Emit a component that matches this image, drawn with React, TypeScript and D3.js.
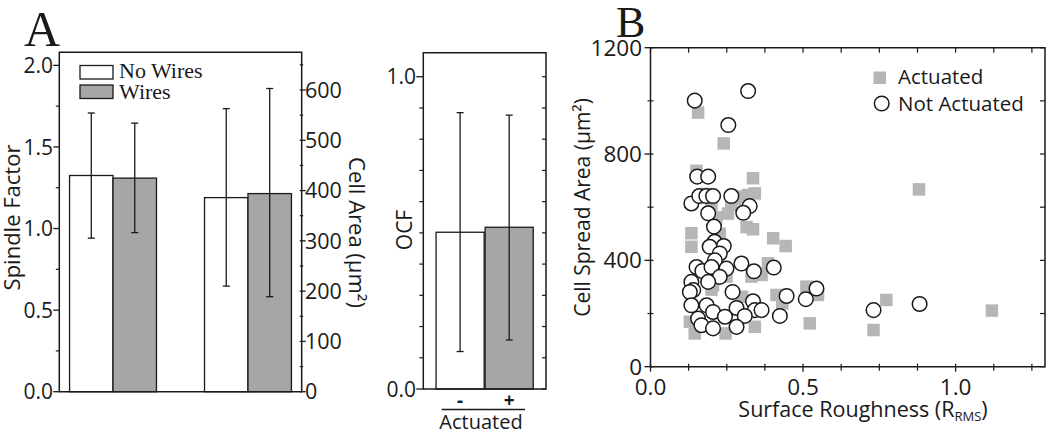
import React from "react";
import * as d3 from "d3";

// ---------- Panel A (left): Spindle Factor / Cell Area ----------
const groupsA = ["Spindle Factor", "Cell Area"];
const seriesA = ["No Wires", "Wires"];
const spindleMeans = [1.325, 1.309];
const spindleLo = [0.941, 0.975];
const spindleHi = [1.708, 1.646];
const areaMeans = [386, 394];
const areaLo = [210, 189];
const areaHi = [563, 603];
const spindleTicks = [0, 0.5, 1.0, 1.5, 2.0];
const spindleMinor = [0.25, 0.75, 1.25, 1.75];
const areaTicks = [0, 100, 200, 300, 400, 500, 600];
const areaMinor = [50, 150, 250, 350, 450, 550, 650];

// ---------- Panel A (right): OCF ----------
const ocfCats = ["-", "+"];
const ocfMeans = [0.502, 0.518];
const ocfLo = [0.12, 0.157];
const ocfHi = [0.885, 0.877];
const ocfTicks = [0, 1.0];
const ocfMinor = [0.1, 0.2, 0.3, 0.4, 0.5, 0.6, 0.7, 0.8, 0.9];

// ---------- Panel B: scatter ----------
const actX = [0.156, 0.24, 0.336, 0.88, 1.119, 0.773, 0.731, 0.522, 0.342, 0.246, 0.145, 0.129, 0.402, 0.443, 0.336, 0.315, 0.342, 0.32, 0.265, 0.254, 0.216, 0.134, 0.134, 0.385, 0.364, 0.331, 0.249, 0.205, 0.413, 0.511, 0.549, 0.432, 0.227, 0.19, 0.3, 0.2, 0.151, 0.18, 0.28, 0.2, 0.29];
const actY = [956, 840, 709, 667, 211, 251, 138, 163, 150, 125, 125, 169, 483, 454, 517, 525, 652, 646, 610, 576, 562, 502, 451, 389, 345, 339, 339, 307, 270, 301, 270, 238, 500, 360, 263, 290, 737, 650, 630, 610, 640];
const notX = [0.145, 0.32, 0.255, 0.153, 0.189, 0.134, 0.16, 0.183, 0.205, 0.265, 0.325, 0.304, 0.189, 0.208, 0.21, 0.24, 0.194, 0.227, 0.211, 0.151, 0.17, 0.2, 0.249, 0.298, 0.339, 0.404, 0.227, 0.189, 0.134, 0.14, 0.129, 0.269, 0.446, 0.509, 0.544, 0.134, 0.184, 0.205, 0.282, 0.336, 0.342, 0.364, 0.309, 0.244, 0.424, 0.156, 0.167, 0.205, 0.282, 0.731, 0.882];
const notY = [1001, 1037, 909, 715, 715, 614, 642, 642, 642, 642, 604, 579, 577, 527, 470, 454, 451, 426, 400, 375, 360, 375, 369, 388, 359, 373, 338, 319, 319, 288, 281, 281, 266, 254, 294, 231, 231, 206, 221, 246, 213, 213, 191, 188, 191, 181, 156, 144, 150, 213, 236];
const bXTicks = [0, 0.5, 1.0];
const bXMinor = [0.125, 0.25, 0.375, 0.625, 0.75, 0.875, 1.125, 1.25];
const bYTicks = [0, 400, 800, 1200];
const bYMinor = [200, 600, 1000];

const SANS = "'Open Sans', 'DejaVu Sans', sans-serif";
const SERIF = "'Liberation Serif', 'DejaVu Serif', serif";
const INK = "#1a1a1a";
const BAR_GRAY = "#a6a6a6";
const SQ_GRAY = "#b6b6b6";

function ErrorBar({ x, y1, y2 }: { x: number; y1: number; y2: number }) {
  const c = 3.5;
  return (
    <g stroke={INK} strokeWidth={1.3}>
      <line x1={x} x2={x} y1={y1} y2={y2} />
      <line x1={x - c} x2={x + c} y1={y1} y2={y1} />
      <line x1={x - c} x2={x + c} y1={y2} y2={y2} />
    </g>
  );
}

export default function App() {
  // ----- Panel A left -----
  const aL = 59.3, aR = 301.7, aT = 52.3, aB = 391.7;
  const spindleY = d3.scaleLinear().domain([0, 2.08]).range([aB, aT]);
  const areaY = d3.scaleLinear().domain([0, 675]).range([aB, aT]);
  const xGroup = d3.scaleBand<string>().domain(groupsA).range([aL, aR]).paddingInner(0.356).paddingOuter(0.076);
  const xSeries = d3.scaleBand<string>().domain(seriesA).range([0, xGroup.bandwidth()]);
  const groupScales = [spindleY, areaY];
  const groupMeans = [spindleMeans, areaMeans];
  const groupLo = [spindleLo, areaLo];
  const groupHi = [spindleHi, areaHi];

  // ----- Panel A right (OCF) -----
  const oL = 423.3, oR = 546, oT = 52.7, oB = 389;
  const ocfY = d3.scaleLinear().domain([0, 1.077]).range([oB, oT]);
  const ocfX = d3.scaleBand<string>().domain(ocfCats).range([oL, oR]).paddingInner(0.02).paddingOuter(0.26);

  // ----- Panel B -----
  const bL = 650.5, bR = 1045, bT = 47.7, bB = 366.7;
  const bx = d3.scaleLinear().domain([0, 1.293]).range([bL, bR]);
  const by = d3.scaleLinear().domain([0, 1200]).range([bB, bT]);

  const sq = 12.5;

  return (
    <svg width={1050} height={432} style={{ position: "absolute", left: 0, top: 0, background: "#fff" }}>
      <rect width={1050} height={432} fill="#fff" />
      {/* Panel letters */}
      <text x={24} y={46} fontFamily={SERIF} fontSize={50} fill={INK}>A</text>
      <text x={616} y={37} fontFamily={SERIF} fontSize={44} fill={INK}>B</text>

      {/* ===== Panel A left ===== */}
      <g>
        {groupsA.map((g, gi) => {
          const sc = groupScales[gi];
          return seriesA.map((s, si) => {
            const x0 = (xGroup(g) as number) + (xSeries(s) as number);
            const w = xSeries.bandwidth();
            const v = groupMeans[gi][si];
            return (
              <g key={g + s}>
                <rect x={x0} y={sc(v)} width={w} height={aB - sc(v)} fill={si === 0 ? "#fff" : BAR_GRAY} stroke={INK} strokeWidth={1.3} />
                <ErrorBar x={x0 + w / 2} y1={sc(groupHi[gi][si])} y2={sc(groupLo[gi][si])} />
              </g>
            );
          });
        })}
        {/* frame */}
        <path d={`M${aL},${aB} V${aT} H${aR} V${aB} Z`} fill="none" stroke={INK} strokeWidth={1.5} />
        {/* left axis ticks */}
        {spindleTicks.map((t) => (
          <g key={"st" + t}>
            <line x1={aL - 6} x2={aL} y1={spindleY(t)} y2={spindleY(t)} stroke={INK} strokeWidth={1.3} />
            <text x={53} y={spindleY(t)} dy="0.36em" textAnchor="end" fontFamily={SANS} fontSize={21} fill={INK}>{t.toFixed(1)}</text>
          </g>
        ))}
        {spindleMinor.map((t) => (
          <line key={"sm" + t} x1={aL - 3.5} x2={aL} y1={spindleY(t)} y2={spindleY(t)} stroke={INK} strokeWidth={1.2} />
        ))}
        {/* right axis ticks */}
        {areaTicks.map((t) => (
          <g key={"at" + t}>
            <line x1={aR - 2} x2={aR + 4} y1={areaY(t)} y2={areaY(t)} stroke={INK} strokeWidth={1.3} />
            <text x={305} y={areaY(t)} dy="0.36em" textAnchor="start" fontFamily={SANS} fontSize={21.5} fill={INK}>{t}</text>
          </g>
        ))}
        {areaMinor.map((t) => (
          <line key={"am" + t} x1={aR - 2} x2={aR + 1.5} y1={areaY(t)} y2={areaY(t)} stroke={INK} strokeWidth={1.2} />
        ))}
        {/* legend */}
        <rect x={80} y={65.5} width={33} height={13.5} fill="#fff" stroke={INK} strokeWidth={1.3} />
        <rect x={80} y={85} width={33} height={13.5} fill={BAR_GRAY} stroke={INK} strokeWidth={1.3} />
        <text x={119} y={77.5} fontFamily={SERIF} fontSize={22} fill={INK}>{seriesA[0]}</text>
        <text x={119} y={99} fontFamily={SERIF} fontSize={22} fill={INK}>{seriesA[1]}</text>
        {/* axis titles */}
        <text transform="translate(19.5,217.5) rotate(-90)" textAnchor="middle" fontFamily={SANS} fontSize={22} fill={INK}>Spindle Factor</text>
        <text transform="translate(349,232.5) rotate(90)" textAnchor="middle" fontFamily={SANS} fontSize={22} fill={INK}>Cell Area (μm²)</text>
      </g>

      {/* ===== Panel A right (OCF) ===== */}
      <g>
        {ocfCats.map((c, i) => {
          const x0 = ocfX(c) as number;
          const w = ocfX.bandwidth();
          return (
            <g key={"o" + c}>
              <rect x={x0} y={ocfY(ocfMeans[i])} width={w} height={oB - ocfY(ocfMeans[i])} fill={i === 0 ? "#fff" : BAR_GRAY} stroke={INK} strokeWidth={1.3} />
              <ErrorBar x={x0 + w / 2} y1={ocfY(ocfHi[i])} y2={ocfY(ocfLo[i])} />
              <text x={x0 + w / 2} y={407} textAnchor="middle" fontFamily={SANS} fontSize={19} fontWeight="bold" fill={INK}>{c}</text>
            </g>
          );
        })}
        <path d={`M${oL},${oB} V${oT} H${oR} V${oB} Z`} fill="none" stroke={INK} strokeWidth={1.5} />
        {ocfTicks.map((t) => (
          <g key={"ot" + t}>
            <line x1={oL - 7} x2={oL} y1={ocfY(t)} y2={ocfY(t)} stroke={INK} strokeWidth={1.3} />
            <line x1={oR - 4} x2={oR} y1={ocfY(t)} y2={ocfY(t)} stroke={INK} strokeWidth={1.2} />
            <text x={416} y={ocfY(t)} dy="0.36em" textAnchor="end" fontFamily={SANS} fontSize={21} fill={INK}>{t.toFixed(1)}</text>
          </g>
        ))}
        {ocfMinor.map((t) => (
          <g key={"om" + t}>
            <line x1={oL - 4} x2={oL} y1={ocfY(t)} y2={ocfY(t)} stroke={INK} strokeWidth={1.2} />
            <line x1={oR - 4} x2={oR} y1={ocfY(t)} y2={ocfY(t)} stroke={INK} strokeWidth={1.2} />
          </g>
        ))}
        <line x1={441.7} x2={525} y1={409.5} y2={409.5} stroke={INK} strokeWidth={1.3} />
        <text x={481} y={429} textAnchor="middle" fontFamily={SANS} fontSize={20} fill={INK}>Actuated</text>
        <text transform="translate(411.7,230) rotate(-90)" textAnchor="middle" fontFamily={SANS} fontSize={21} fill={INK}>OCF</text>
      </g>

      {/* ===== Panel B ===== */}
      <g>
        {actX.map((x, i) => (
          <rect key={"a" + i} x={bx(x) - sq / 2} y={by(actY[i]) - sq / 2} width={sq} height={sq} fill={SQ_GRAY} />
        ))}
        {notX.map((x, i) => (
          <circle key={"n" + i} cx={bx(x)} cy={by(notY[i])} r={7.3} fill="#fff" stroke={INK} strokeWidth={1.5} />
        ))}
        <path d={`M${bL},${bB} V${bT} H${bR} V${bB} Z`} fill="none" stroke={INK} strokeWidth={1.5} />
        {/* y ticks */}
        {bYTicks.map((t) => (
          <g key={"by" + t}>
            <line x1={bL - 6} x2={bL + 3} y1={by(t)} y2={by(t)} stroke={INK} strokeWidth={1.3} />
            <line x1={bR - 5} x2={bR} y1={by(t)} y2={by(t)} stroke={INK} strokeWidth={1.2} />
            <text x={642} y={by(t)} dy="0.36em" textAnchor="end" fontFamily={SANS} fontSize={22.5} fill={INK}>{t}</text>
          </g>
        ))}
        {bYMinor.map((t) => (
          <g key={"bym" + t}>
            <line x1={bL - 3} x2={bL + 3} y1={by(t)} y2={by(t)} stroke={INK} strokeWidth={1.2} />
            <line x1={bR - 5} x2={bR} y1={by(t)} y2={by(t)} stroke={INK} strokeWidth={1.2} />
          </g>
        ))}
        {/* x ticks */}
        {bXTicks.map((t) => (
          <g key={"bx" + t}>
            <line x1={bx(t)} x2={bx(t)} y1={bB - 3} y2={bB + 5} stroke={INK} strokeWidth={1.3} />
            <line x1={bx(t)} x2={bx(t)} y1={bT} y2={bT + 5} stroke={INK} strokeWidth={1.2} />
            <text x={bx(t)} y={395} textAnchor="middle" fontFamily={SANS} fontSize={22.5} fill={INK}>{t.toFixed(1)}</text>
          </g>
        ))}
        {bXMinor.map((t) => (
          <g key={"bxm" + t}>
            <line x1={bx(t)} x2={bx(t)} y1={bB - 3} y2={bB + 4} stroke={INK} strokeWidth={1.2} />
            <line x1={bx(t)} x2={bx(t)} y1={bT} y2={bT + 5} stroke={INK} strokeWidth={1.2} />
          </g>
        ))}
        {/* legend */}
        <rect x={873.5} y={71.5} width={12.5} height={12.5} fill={SQ_GRAY} />
        <text x={898} y={84} fontFamily={SANS} fontSize={20.5} fill={INK}>Actuated</text>
        <circle cx={881.7} cy={103.5} r={7.3} fill="#fff" stroke={INK} strokeWidth={1.5} />
        <text x={898} y={111} fontFamily={SANS} fontSize={20.5} fill={INK}>Not Actuated</text>
        {/* axis titles */}
        <text x={863} y={417} textAnchor="middle" fontFamily={SANS} fontSize={21.5} fill={INK}>
          Surface Roughness (R<tspan fontSize={13} dy={4}>RMS</tspan><tspan dy={-4}>)</tspan>
        </text>
        <text transform="translate(590,207.5) rotate(-90)" textAnchor="middle" fontFamily={SANS} fontSize={21} fill={INK}>Cell Spread Area (μm²)</text>
      </g>
    </svg>
  );
}
